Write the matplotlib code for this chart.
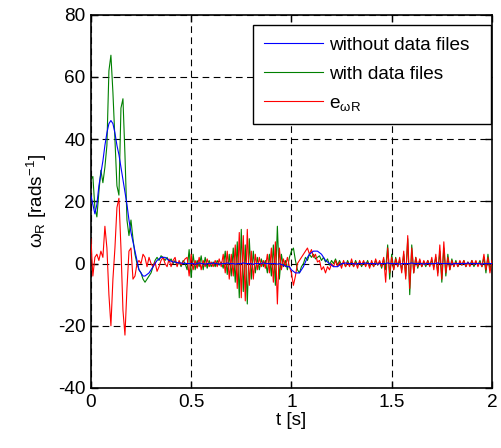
import numpy as np
import matplotlib
matplotlib.use("Agg")
import matplotlib.pyplot as plt

plt.rcParams['font.family'] = ['Liberation Sans', 'DejaVu Sans']
plt.rcParams['mathtext.fontset'] = 'custom'
plt.rcParams['mathtext.rm'] = 'Liberation Sans'
plt.rcParams['mathtext.it'] = 'Liberation Sans'
plt.rcParams['mathtext.bf'] = 'Liberation Sans:bold'
plt.rcParams['axes.unicode_minus'] = False

# ---------------------------------------------
# Rotor speed signals, sampled every 10 ms
# ---------------------------------------------
dt = 0.01
t = np.arange(201) * dt

# without data files
w_plain = [
    22, 19, 16, 19, 25, 29, 33, 38, 42, 45,
    46, 45, 42, 38, 35, 31, 27, 23, 19, 14,
    10, 7, 4, 1, -2, -3, -4, -4, -3.5, -3,
    -2, -1, 0, 1, 1.5, 2, 2, 2, 1.5, 1,
    0.8, 0.5, 0.5, 0.3, 0.2, 0.2, 0, 0.1, 0, 0,
    0, 0, -0.2, 0, 0.2, 0, 0, -0.2, 0, 0,
    0, 0.2, 0, 0, -0.2, 0, 0, 0, 0.2, 0,
    0, 0, -0.2, 0, 0, 0, 0.2, 0, 0, 0,
    0, -0.2, 0, 0, 0, 0, 0.2, 0, 0, 0,
    0, 0, 0, -0.2, 0, -0.3, -0.5, -0.8, -1, -1,
    -2, -2.5, -3, -3, -3, -2, -1, 0.5, 2, 3,
    3.5, 4, 4, 4, 3.5, 3, 2, 1, 0.5, 0,
    -0.5, -1, -1, -1, -0.5, 0, 0, 0.2, 0, 0,
    0, 0, -0.2, 0, 0, 0, 0, 0.2, 0, 0,
    0, 0, 0, -0.2, 0, 0, 0, 0, 0.2, 0,
    0, 0, 0, 0, -0.2, 0, 0, 0, 0, 0,
    0.2, 0, 0, 0, 0, 0, -0.2, 0, 0, 0,
    0, 0, 0, 0.2, 0, 0, 0, 0, 0, 0,
    -0.2, 0, 0, 0, 0, 0, 0, 0, 0.2, 0,
    0, 0, 0, 0, 0, -0.2, 0, 0, 0, 0,
    0,
]

# with data files
w_data = [
    27, 28, 18, 15, 23, 30, 26, 31, 38, 62,
    67, 55, 40, 25, 22, 50, 53, 35, 14, 9,
    14, 8, 3, 0, -2, -3, -5, -6, -5, -4,
    -3, -1, 1, 2, 1, 2.5, 2, 1, 2, 0.5,
    1.5, 0, 1, -0.5, 0.5, -1, 1, 0, -2, 4.5,
    -4.5, 3, -2, 1, -1, 2.5, -2, 2, -1.5, 1,
    -1, 0.5, -1, 1, -0.5, 0.5, -1.5, 4, -3.5, 3,
    -4, 5, -6, 7, -11, 11, -9, 6, -13, 8,
    -5, 4, -3, 2, -2, 1.5, -1, 1, -3, 3,
    -4, 6, -7, 12, -5, 3, -1, 1, -2, 2,
    4, 5, 1, -2, -3, -1, 0, 2, 1, 3,
    2, 3, 1.5, 2, 2.5, 1, 2, 0.5, 1.5, -0.5,
    1, 0, 1.5, -0.5, 1, -0.5, 0.5, -1, 1, -0.5,
    0.5, -1, 1, -0.5, 0.5, -1, 0.5, -0.5, 1, -1,
    0.5, -1, 1, -0.5, 0.5, -1.5, 1.5, -2, 6, -5,
    3, -2, 2, -1, 1, -2, 3, -4, 8, -10,
    6, -3, 2, -1.5, 1, -1, 0.5, -1, 1, -0.5,
    1, -1, 2, -3, 4, -6, 5, -4, 3, -2,
    1.5, -1, 1, -1, 0.5, -0.5, 1, -1, 0.5, -0.5,
    1, -1, 0.5, -0.5, 1, -1, 2, -3, 3, -2,
    1,
]

# error e_wR
w_err = [
    8, -4, 2, 3, 1, 4, 2, 12, 5, -10,
    -20, -5, 5, 18, 21, 5, -15, -23, -8, 4,
    5, -5, -4, 0, 1, 0, 3, 2, -1, 2,
    0, -1, 0.5, -2.5, -1, 1, 2, 0, -1, 1.5,
    -1, 1, 2, -1, 1, -0.5, 0.5, 1.5, 2, -4,
    3, -2, 1, -1.5, 2, -2, 1, -1, 1.5, -1,
    0.5, -1, 1, -1, 1.5, -1, 3, -3, 4, -5,
    3, -4, 6, -8, 10, -11, 9, -12, 11, -7,
    4, -5, 3, -2, 2, -1, 1, -1.5, 3, -3,
    5, -6, 7, -13, 5, -2, 1.5, -1, 2, -1,
    -3, -7, -4, 0, 1, 2, 3, 4, 5, 3,
    4.5, 2, 3, 0.5, 1, -2, -1, -3, -1, -2,
    0, -1, 1, -1, 0.5, -1.5, 1, -1, 0.5, -1,
    1.5, -1, 0.5, -1.5, 1, -0.5, 1, -1, 0.5, -1.5,
    1, -1, 1.5, -0.5, 1, -1, 2, -6, 5, -3,
    2, -2, 1.5, -1, 2, -3, 4, -5, 9, -8,
    5, -3, 2, -1, 1.5, -1, 1, -0.5, 1, -1,
    2, -2, 3, -4, 6, -5, 7, -3, 2, -2,
    1, -1, 0.5, -1, 1, -0.5, 1, -1, 0.5, -1,
    1, -0.5, 1, -1, 0.5, -1, 3, -2, 2, -3,
    1,
]

labels = ['without data files', 'with data files', r'e$_{\omega\mathrm{R}}$']

# ---------------------------------------------
# Plot
# ---------------------------------------------
fs = 13.7
fig = plt.figure(figsize=(5.02, 4.48), dpi=100)
ax = fig.add_axes([0.181, 0.134, 0.799, 0.833])

ax.plot(t, w_data, color=(0, 0.5, 0), lw=0.8, label=labels[1], zorder=2)
ax.plot(t, w_err, color=(1, 0, 0), lw=0.8, label=labels[2], zorder=3)
ax.plot(t, w_plain, color=(0, 0, 1), lw=0.8, label=labels[0], zorder=4)

ax.set_xlim(0, 2)
ax.set_ylim(-40, 80)
ax.set_xticks([0, 0.5, 1, 1.5, 2])
ax.set_xticklabels(['0', '0.5', '1', '1.5', '2'])
ax.set_yticks(range(-40, 81, 20))

ax.grid(True, color='black', linestyle=(0, (6, 4)), linewidth=0.8)
ax.tick_params(direction='in', top=True, right=True, length=5,
               labelsize=fs, width=1, pad=4)
for s in ax.spines.values():
    s.set_linewidth(1.2)

ax.set_xlabel('t [s]', fontsize=fs, labelpad=1)
ax.set_ylabel(r'$\omega_\mathrm{R}$ [rads$^{-1}$]', fontsize=fs, labelpad=6)

# legend in order blue, green, red; box stretched to a fixed width
h, l = ax.get_legend_handles_labels()
order = [l.index(s) for s in labels]
leg = ax.legend([h[i] for i in order], [l[i] for i in order],
                loc='upper left', bbox_to_anchor=(0.404, 0.70, 0.594, 0.273),
                mode='expand', borderaxespad=0, fontsize=fs, fancybox=False,
                framealpha=1, edgecolor='black', handlelength=3.1,
                handletextpad=0.3, labelspacing=0.62, borderpad=0.6)
leg.get_frame().set_linewidth(1.0)

plt.savefig('out.png', dpi=100)
